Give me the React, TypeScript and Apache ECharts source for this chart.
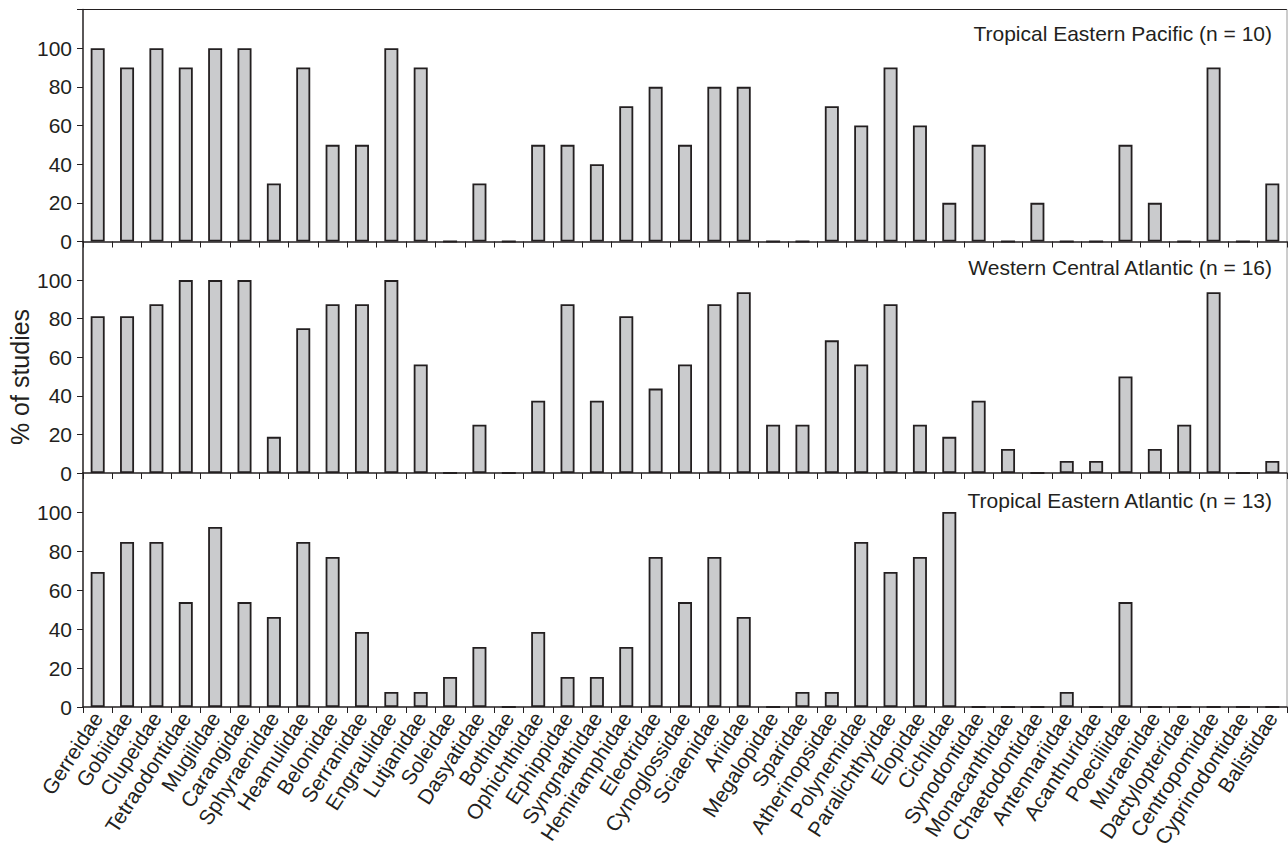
import React, { useEffect, useRef } from "react";
import * as echarts from "echarts";

const categories = [
  "Gerreidae", "Gobiidae", "Clupeidae", "Tetraodontidae", "Mugilidae", "Carangidae",
  "Sphyraenidae", "Heamulidae", "Belonidae", "Serranidae", "Engraulidae", "Lutjanidae",
  "Soleidae", "Dasyatidae", "Bothidae", "Ophichthidae", "Ephippidae", "Syngnathidae",
  "Hemiramphidae", "Eleotridae", "Cynoglossidae", "Sciaenidae", "Ariidae", "Megalopidae",
  "Sparidae", "Atherinopsidae", "Polynemidae", "Paralichthyidae", "Elopidae", "Cichlidae",
  "Synodontidae", "Monacanthidae", "Chaetodontidae", "Antennariidae", "Acanthuridae",
  "Poeciliidae", "Muraenidae", "Dactylopteridae", "Centropomidae", "Cyprinodontidae", "Balistidae",
];

const tropicalEasternPacific = [
  100, 90, 100, 90, 100, 100, 30, 90, 50, 50, 100, 90, 0, 30, 0, 50, 50, 40, 70, 80, 50,
  80, 80, 0, 0, 70, 60, 90, 60, 20, 50, 0, 20, 0, 0, 50, 20, 0, 90, 0, 30,
];

const westernCentralAtlantic = [
  81.25, 81.25, 87.5, 100, 100, 100, 18.75, 75, 87.5, 87.5, 100, 56.25, 0, 25, 0, 37.5,
  87.5, 37.5, 81.25, 43.75, 56.25, 87.5, 93.75, 25, 25, 68.75, 56.25, 87.5, 25, 18.75,
  37.5, 12.5, 0, 6.25, 6.25, 50, 12.5, 25, 93.75, 0, 6.25,
];

const tropicalEasternAtlantic = [
  69.2, 84.6, 84.6, 53.8, 92.3, 53.8, 46.2, 84.6, 76.9, 38.5, 7.7, 7.7, 15.4, 30.8, 0,
  38.5, 15.4, 15.4, 30.8, 76.9, 53.8, 76.9, 46.2, 0, 7.7, 7.7, 84.6, 69.2, 76.9, 100,
  0, 0, 0, 7.7, 0, 53.8, 0, 0, 0, 0, 0,
];

const panelTitles = [
  "Tropical Eastern Pacific (n = 10)",
  "Western Central Atlantic (n = 16)",
  "Tropical Eastern Atlantic (n = 13)",
];

const yTicks = [0, 20, 40, 60, 80, 100, 120];

const INK = "#231f20";
const FONT = '"Liberation Sans", Arial, Helvetica, sans-serif';

export default function App() {
  const ref = useRef<HTMLDivElement>(null);

  useEffect(() => {
    if (!ref.current) return;
    const chart = echarts.init(ref.current, undefined, { renderer: "svg" });

    const grids = [
      { left: 83, right: 1, top: 9.5, height: 232, outerBoundsMode: "none", containLabel: false },
      { left: 83, right: 1, top: 241.5, height: 231.5, outerBoundsMode: "none", containLabel: false },
      { left: 83, right: 1, top: 473, height: 234, outerBoundsMode: "none", containLabel: false },
    ];
    const seriesData = [tropicalEasternPacific, westernCentralAtlantic, tropicalEasternAtlantic];
    const titleY = [33, 267, 500];

    const option: any = {
      animation: false,
      backgroundColor: "#ffffff",
      grid: grids,
      xAxis: grids.map((_, i) => ({
        type: "category",
        gridIndex: i,
        data: categories,
        boundaryGap: true,
        axisLine: { show: true, lineStyle: { color: INK, width: 1.5 } },
        axisTick: { show: true, length: 6, inside: false, lineStyle: { color: INK, width: 1 } },
        axisLabel: {
          show: i === 2,
          interval: 0,
          rotate: 57,
          margin: 7,
          color: INK,
          fontSize: 21,
          fontFamily: FONT,
        },
        splitLine: { show: false },
      })),
      yAxis: grids.map((_, i) => ({
        type: "value",
        gridIndex: i,
        min: yTicks[0],
        max: yTicks[yTicks.length - 1],
        interval: 20,
        axisLine: { show: true, lineStyle: { color: INK, width: 1.5 } },
        axisTick: { show: true, length: 6, inside: false, lineStyle: { color: INK, width: 1 } },
        axisLabel: {
          margin: 11,
          color: INK,
          fontSize: 21,
          fontFamily: FONT,
          formatter: (v: number) => (v === 120 ? "" : String(v)),
        },
        splitLine: { show: false },
      })),
      series: seriesData.map((d, i) => ({
        type: "bar",
        xAxisIndex: i,
        yAxisIndex: i,
        data: d,
        barWidth: 14,
        itemStyle: { color: "#cacbcd", borderColor: INK, borderWidth: 1.8 },
        emphasis: { disabled: true },
      })),
      graphic: [
        {
          type: "line",
          shape: { x1: 83, y1: 9.5, x2: 1287, y2: 9.5 },
          style: { stroke: INK, lineWidth: 1.2 },
          silent: true,
        },
        {
          type: "line",
          shape: { x1: 1287, y1: 9.5, x2: 1287, y2: 707 },
          style: { stroke: "#9a9a9a", lineWidth: 1 },
          silent: true,
        },
        ...panelTitles.map((t, i) => ({
          type: "text",
          x: 1272,
          y: titleY[i],
          silent: true,
          style: {
            text: t,
            align: "right",
            verticalAlign: "middle",
            fontSize: 21,
            fontFamily: FONT,
            fill: INK,
          },
        })),
        {
          type: "text",
          x: 20,
          y: 377,
          rotation: Math.PI / 2,
          silent: true,
          style: {
            text: "% of studies",
            align: "center",
            verticalAlign: "middle",
            fontSize: 25,
            fontFamily: FONT,
            fill: INK,
          },
        },
      ],
    };

    chart.setOption(option);
    return () => chart.dispose();
  }, []);

  return (
    <div
      ref={ref}
      style={{ position: "fixed", left: 0, top: 0, width: 1288, height: 853, background: "#fff" }}
    />
  );
}
